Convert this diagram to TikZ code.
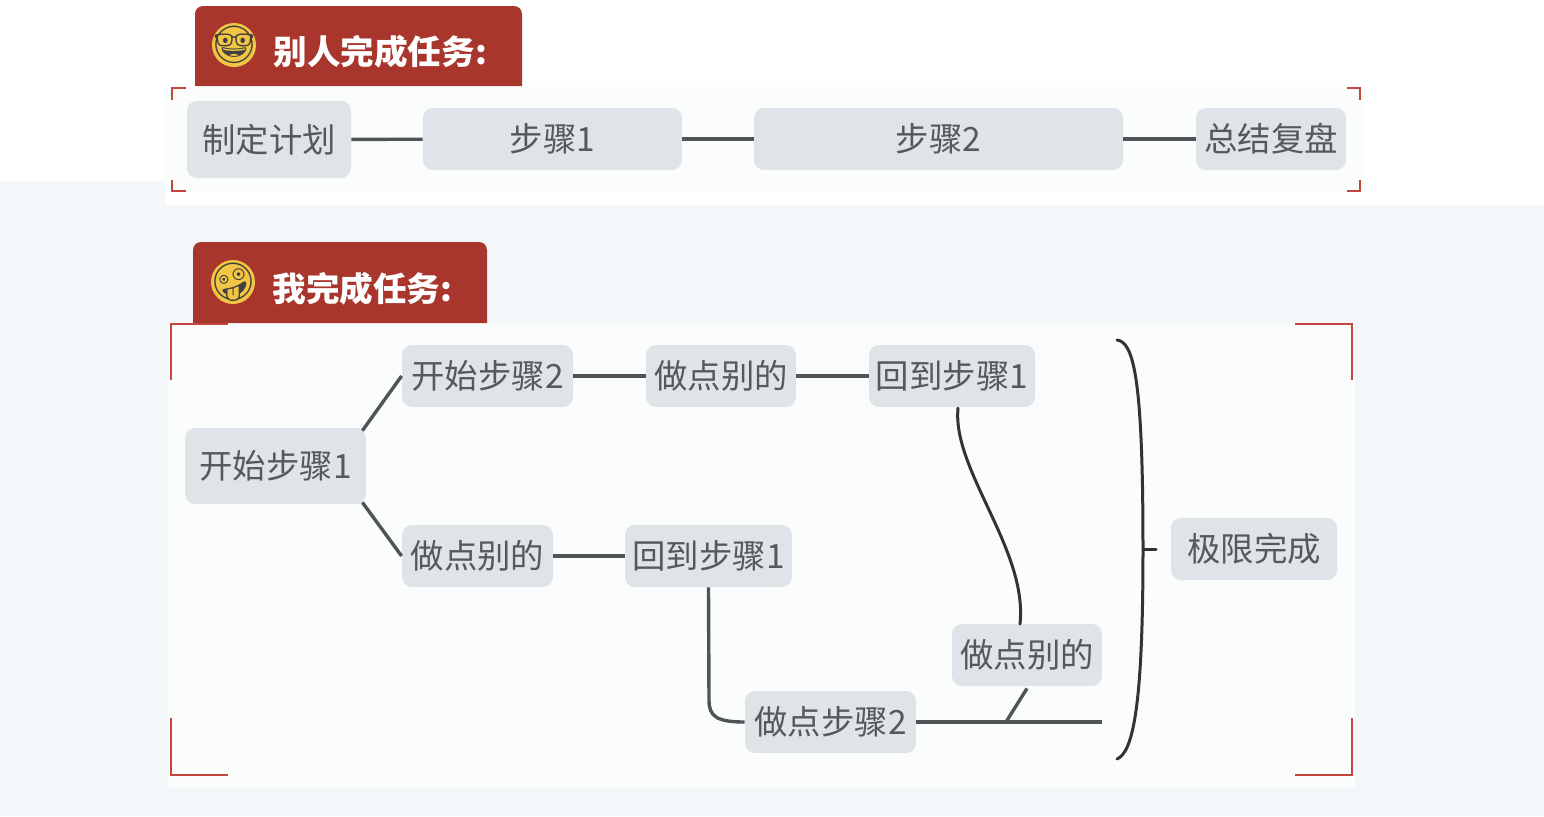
\documentclass[tikz,border=0pt]{standalone}
\usepackage{fontspec}
\setmainfont{Noto Sans CJK SC}
\newfontfamily\emojifont{Noto Emoji}
\definecolor{pagebg}{HTML}{F3F7F9}
\definecolor{panelbg}{HTML}{FBFDFD}
\definecolor{tabred}{HTML}{A8362C}
\definecolor{cornerred}{HTML}{C4473E}
\definecolor{boxgrey}{HTML}{DFE4E8}
\definecolor{textgrey}{HTML}{54595C}
\definecolor{linegrey}{HTML}{4F5457}
\definecolor{facegold}{HTML}{F2C544}
\tikzset{
    stepbox/.style={fill=boxgrey, rounded corners=5pt, inner sep=0pt, minimum height=31pt, text=textgrey, font=\fontsize{16.7}{19}\selectfont},
    link/.style={draw=linegrey, line width=1.7pt},
    darklink/.style={draw=black!80, line width=1.5pt, line cap=round},
    corner/.style={draw=cornerred, line width=1.4pt},
    tabtitle/.style={anchor=west, inner sep=0pt, text=white, font=\fontsize{16.8}{19}\selectfont\bfseries},
    facedisc/.style={circle, fill=facegold, minimum size=22pt, inner sep=0pt},
    face/.style={inner sep=0pt, font=\emojifont\fontsize{18.5}{20}\selectfont, text=black!75}
}
\begin{document}
\begin{tikzpicture}[x=0.5pt,y=-0.5pt]
    \useasboundingbox (0,0) rectangle (1544,816);
    \fill[pagebg] (0,181) -- (165,181) -- (165,205) -- (1544,205) -- (1544,816) -- (0,816) -- cycle;
    \fill[panelbg] (165,87) rectangle (1365,192);
    \fill[panelbg] (168,323) rectangle (1355,788);

    \fill[tabred] (195,86) [rounded corners=4pt] -- (195,6) -- (522,6) [sharp corners] -- (522,86) -- cycle;
    \fill[tabred] (193,323) [rounded corners=4pt] -- (193,242) -- (487,242) [sharp corners] -- (487,323) -- cycle;
    \node[facedisc] (nerdDisc) at (234,45) {};
    \node[facedisc] (zanyDisc) at (233,282) {};
    \node[face] (nerd) at (nerdDisc) {🤓};
    \node[face] (zany) at (zanyDisc) {🤪};
    \node[tabtitle] (titleA) at (273,52) {别人完成任务:};
    \node[tabtitle] (titleB) at (272,289) {我完成任务:};

    \draw[corner] (172,100) -- (172,88) -- (186,88);
    \draw[corner] (172,180) -- (172,191) -- (186,191);
    \draw[corner] (1347,88) -- (1360,88) -- (1360,100);
    \draw[corner] (1347,191) -- (1360,191) -- (1360,180);
    \draw[corner] (171,380) -- (171,324) -- (228,324);
    \draw[corner] (171,718) -- (171,775) -- (228,775);
    \draw[corner] (1295,324) -- (1352,324) -- (1352,380);
    \draw[corner] (1295,775) -- (1352,775) -- (1352,718);

    \node[stepbox, minimum width=82pt, minimum height=38.5pt] (plan) at (269,139.5) {制定计划};
    \node[stepbox, minimum width=129.5pt] (stepA) at (552.5,139) {步骤1};
    \node[stepbox, minimum width=184.5pt] (stepB) at (938.5,139) {步骤2};
    \node[stepbox, minimum width=75pt] (review) at (1271,139) {总结复盘};
    \draw[link] (plan) -- (stepA);
    \draw[link] (stepA) -- (stepB);
    \draw[link] (stepB) -- (review);

    \node[stepbox, minimum width=90.5pt, minimum height=38pt] (startA) at (275.5,466) {开始步骤1};
    \node[stepbox, minimum width=85.5pt] (startB) at (487.5,376) {开始步骤2};
    \node[stepbox, minimum width=75pt] (otherA) at (721,376) {做点别的};
    \node[stepbox, minimum width=83pt] (backA) at (952,376) {回到步骤1};
    \node[stepbox, minimum width=75.5pt] (otherB) at (477.5,556) {做点别的};
    \node[stepbox, minimum width=83.5pt] (backB) at (708.5,556) {回到步骤1};
    \node[stepbox, minimum width=85.5pt] (doB) at (830.5,722) {做点步骤2};
    \node[stepbox, minimum width=75pt] (otherC) at (1027,655) {做点别的};
    \node[stepbox, minimum width=83pt] (limit) at (1254,549) {极限完成};

    \coordinate (lineEnd) at (1102,722);
    \coordinate (lineJoin) at (1006,722);
    \coordinate (curveEnd) at (1020,624);
    \coordinate (braceTop) at (1117,340);
    \coordinate (braceMid) at (1143,549);
    \coordinate (braceBot) at (1117,759);
    \coordinate (braceTip) at (1156,549);

    \draw[link] (startA.north east) ++(-4,3) -- (startB.west);
    \draw[link] (startA.south east) ++(-4,-2) -- (otherB.west);
    \draw[link] (startB) -- (otherA);
    \draw[link] (otherA) -- (backA);
    \draw[link] (otherB) -- (backB);
    \draw[link] (backB.south) -- (709,700) .. controls (709,716) and (716,722) .. (doB.west);
    \draw[link] (doB) -- (lineEnd);
    \draw[link] (otherC.south) ++(0,2) -- (lineJoin);
    \draw[darklink] (958,408) .. controls (952,470) and (1028,550) .. (curveEnd);
    \draw[darklink] (braceTop) .. controls (1134,342) and (1143,380) .. (braceMid) .. controls (1143,700) and (1134,752) .. (braceBot);
    \draw[darklink] (braceMid) -- (braceTip);
\end{tikzpicture}
\end{document}
